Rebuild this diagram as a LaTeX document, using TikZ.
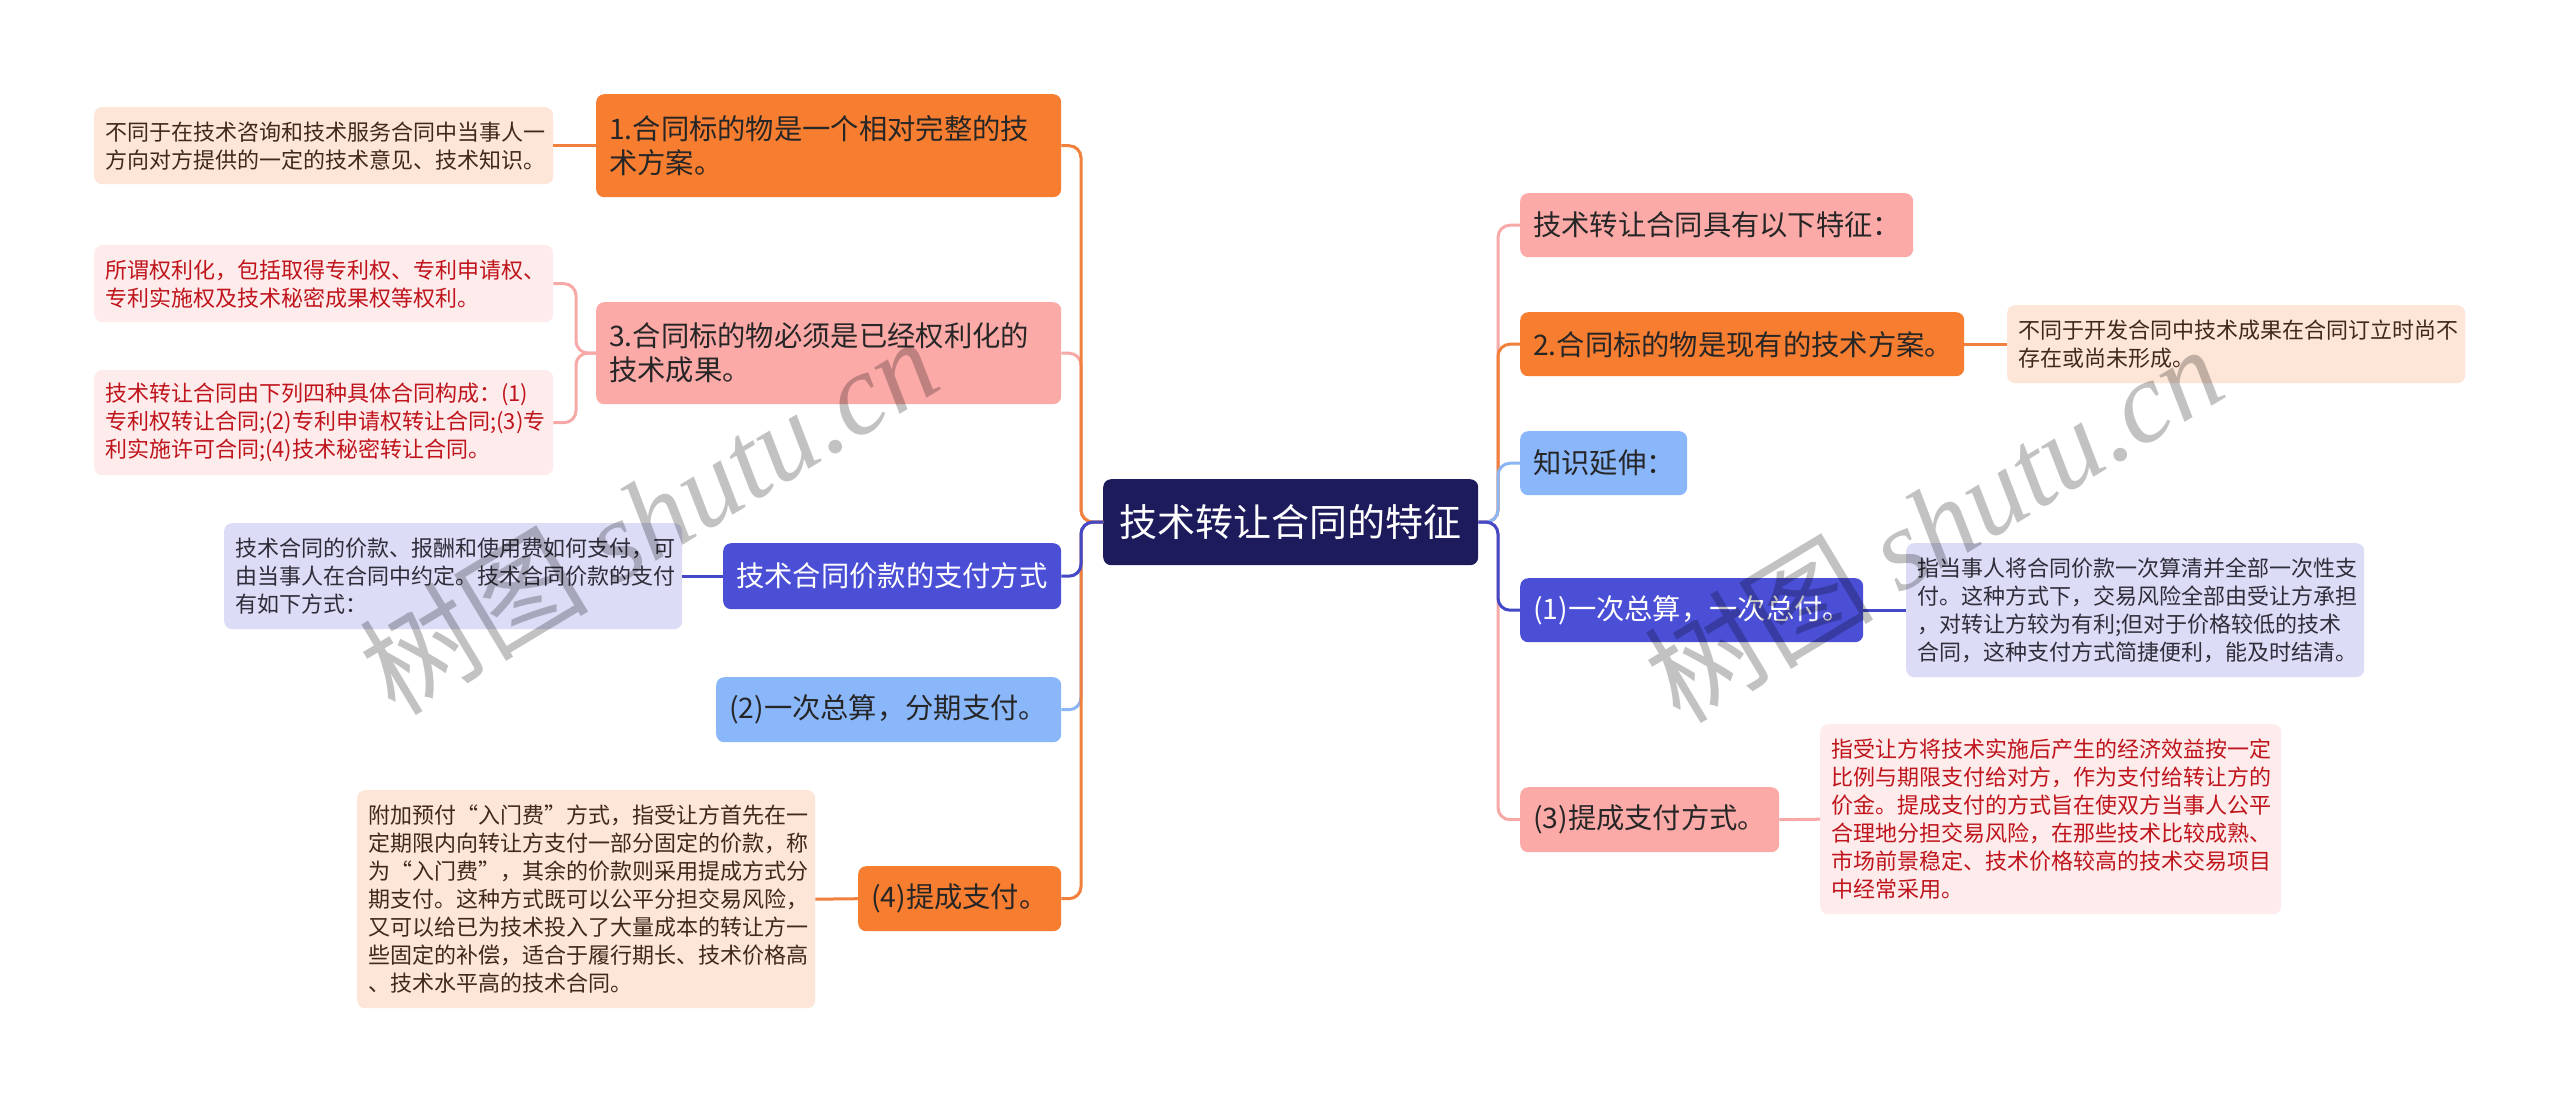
\documentclass[tikz,border=0pt]{standalone}
\usepackage{fontspec}
\setmainfont{Noto Sans CJK SC}
\newfontfamily\cjk{Noto Sans CJK SC}
\newfontfamily\wmlatin{Liberation Serif}
\definecolor{orangeF}{HTML}{F77D30}
\definecolor{pinkF}{HTML}{FBAAA8}
\definecolor{dblueF}{HTML}{4A4FD6}
\definecolor{lblueF}{HTML}{8AB6FA}
\definecolor{centerF}{HTML}{1D1B5C}
\definecolor{peachF}{HTML}{FDE5D7}
\definecolor{lpinkF}{HTML}{FDECEB}
\definecolor{lavF}{HTML}{DCDCF7}
\definecolor{orangeL}{HTML}{F0803C}
\definecolor{pinkL}{HTML}{F6A9A7}
\definecolor{dblueL}{HTML}{4348C6}
\definecolor{lblueL}{HTML}{8AB6F5}
\definecolor{darkT}{HTML}{262626}
\definecolor{brownT}{HTML}{40281A}
\definecolor{redT}{HTML}{C0141C}
\definecolor{lavT}{HTML}{2E2E3A}
\tikzset{
  box/.style={rounded corners=8pt, anchor=north west, inner xsep=13pt, inner ysep=0pt,
    align=left, text=darkT, font=\fontsize{28.3}{34}\selectfont},
  leaf/.style={rounded corners=8pt, anchor=north west, inner xsep=11pt, inner ysep=0pt,
    align=left, font=\fontsize{22}{28}\selectfont},
  conn/.style={line width=3pt, rounded corners=12pt},
  wm/.style={text=black, opacity=0.24, rotate=31, inner sep=0pt}
}
\begin{document}
\begin{tikzpicture}[x=1pt,y=-1pt]
\useasboundingbox[fill=white] (0,0) rectangle (2560,1103);

% central node
\node[rounded corners=8pt, fill=centerF, text=white, minimum width=375pt, minimum height=86pt,
  anchor=north west, inner sep=0pt, font=\fontsize{38}{44}\selectfont] (c) at (1103,479) {技术转让合同的特征};

% left main branches
\node[box, fill=orangeF, minimum width=465pt, minimum height=103pt, text width=439pt] (b1) at (596,94)
  {1.合同标的物是一个相对完整的技\\术方案。};
\node[box, fill=pinkF, minimum width=465pt, minimum height=102pt, text width=439pt] (b3) at (596,302)
  {3.合同标的物必须是已经权利化的\\技术成果。};
\node[box, fill=dblueF, text=white, minimum width=338pt, minimum height=66pt, text width=312pt] (pay) at (723,543)
  {技术合同价款的支付方式};
\node[box, fill=lblueF, minimum width=345pt, minimum height=65pt, text width=319pt] (b2) at (716,677)
  {(2)一次总算，分期支付。};
\node[box, fill=orangeF, minimum width=203pt, minimum height=65pt, text width=177pt] (b4) at (858,866)
  {(4)提成支付。};

% left leaves
\node[leaf, fill=peachF, text=brownT, minimum width=459pt, minimum height=77pt, text width=437pt] (l1) at (94,107)
  {不同于在技术咨询和技术服务合同中当事人一\\方向对方提供的一定的技术意见、技术知识。};
\node[leaf, fill=lpinkF, text=redT, minimum width=459pt, minimum height=77pt, text width=437pt] (l3a) at (94,245)
  {所谓权利化，包括取得专利权、专利申请权、\\专利实施权及技术秘密成果权等权利。};
\node[leaf, fill=lpinkF, text=redT, minimum width=459pt, minimum height=105pt, text width=437pt] (l3b) at (94,370)
  {技术转让合同由下列四种具体合同构成：(1)\\专利权转让合同;(2)专利申请权转让合同;(3)专\\利实施许可合同;(4)技术秘密转让合同。};
\node[leaf, fill=lavF, text=lavT, minimum width=458pt, minimum height=106pt, text width=436pt] (lpay) at (224,523)
  {技术合同的价款、报酬和使用费如何支付，可\\由当事人在合同中约定。技术合同价款的支付\\有如下方式：};
\node[leaf, fill=peachF, text=brownT, minimum width=458pt, minimum height=218pt, text width=436pt] (l4) at (357,790)
  {附加预付“入门费”方式，指受让方首先在一\\定期限内向转让方支付一部分固定的价款，称\\为“入门费”，其余的价款则采用提成方式分\\期支付。这种方式既可以公平分担交易风险，\\又可以给已为技术投入了大量成本的转让方一\\些固定的补偿，适合于履行期长、技术价格高\\、技术水平高的技术合同。};

% right main branches
\node[box, fill=pinkF, minimum width=393pt, minimum height=64pt, text width=367pt] (r1) at (1520,193)
  {技术转让合同具有以下特征：};
\node[box, fill=orangeF, minimum width=444pt, minimum height=64pt, text width=418pt] (r2) at (1520,312)
  {2.合同标的物是现有的技术方案。};
\node[box, fill=lblueF, minimum width=167pt, minimum height=64pt, text width=141pt] (r3) at (1520,431)
  {知识延伸：};
\node[box, fill=dblueF, text=white, minimum width=343pt, minimum height=64pt, text width=317pt] (r4) at (1520,578)
  {(1)一次总算，一次总付。};
\node[box, fill=pinkF, minimum width=259pt, minimum height=65pt, text width=233pt] (r5) at (1520,787)
  {(3)提成支付方式。};

% right leaves
\node[leaf, fill=peachF, text=brownT, minimum width=458pt, minimum height=78pt, text width=436pt] (lr2) at (2007,305)
  {不同于开发合同中技术成果在合同订立时尚不\\存在或尚未形成。};
\node[leaf, fill=lavF, text=lavT, minimum width=458pt, minimum height=134pt, text width=436pt] (lr4) at (1906,543)
  {指当事人将合同价款一次算清并全部一次性支\\付。这种方式下，交易风险全部由受让方承担\\，对转让方较为有利;但对于价格较低的技术\\合同，这种支付方式简捷便利，能及时结清。};
\node[leaf, fill=lpinkF, text=redT, minimum width=461pt, minimum height=190pt, text width=439pt] (lr5) at (1820,724)
  {指受让方将技术实施后产生的经济效益按一定\\比例与期限支付给对方，作为支付给转让方的\\价金。提成支付的方式旨在使双方当事人公平\\合理地分担交易风险，在那些技术比较成熟、\\市场前景稳定、技术价格较高的技术交易项目\\中经常采用。};

% spines
\coordinate (ls) at (1081,522);
\coordinate (rs) at (1498,522);
\coordinate (b3s) at (576,353);

\draw[conn, pinkL] (c.west) -- (ls) |- (b3.east);
\draw[conn, orangeL] (c.west) -- (ls) |- (b1.east);
\draw[conn, lblueL] (c.west) -- (ls) |- (b2.east);
\draw[conn, orangeL] (c.west) -- (ls) |- (b4.east);
\draw[conn, dblueL] (c.west) -- (ls) |- (pay.east);

\draw[conn, pinkL] (c.east) -- (rs) |- (r1.west);
\draw[conn, pinkL] (c.east) -- (rs) |- (r5.west);
\draw[conn, orangeL] (c.east) -- (rs) |- (r2.west);
\draw[conn, lblueL] (c.east) -- (rs) |- (r3.west);
\draw[conn, dblueL] (c.east) -- (rs) |- (r4.west);

% leaf connectors
\draw[conn, orangeL] (b1.west) -- (l1.east);
\draw[conn, pinkL] (b3.west) -- (b3s) |- (l3a.east);
\draw[conn, pinkL] (b3.west) -- (b3s) |- (l3b.east);
\draw[conn, dblueL] (pay.west) -- (lpay.east);
\draw[conn, orangeL] (b4.west) -- (l4.east);
\draw[conn, orangeL] (r2.east) -- (lr2.west);
\draw[conn, dblueL] (r4.east) -- (lr4.west);
\draw[conn, pinkL] (r5.east) -- (lr5.west);

% watermarks
\node[wm] (wm1) at (648,515) {\fontsize{115}{120}\selectfont\cjk 树图 {\wmlatin\itshape shutu.cn}};
\node[wm] (wm2) at (1933,523) {\fontsize{115}{120}\selectfont\cjk 树图 {\wmlatin\itshape shutu.cn}};
\end{tikzpicture}
\end{document}
